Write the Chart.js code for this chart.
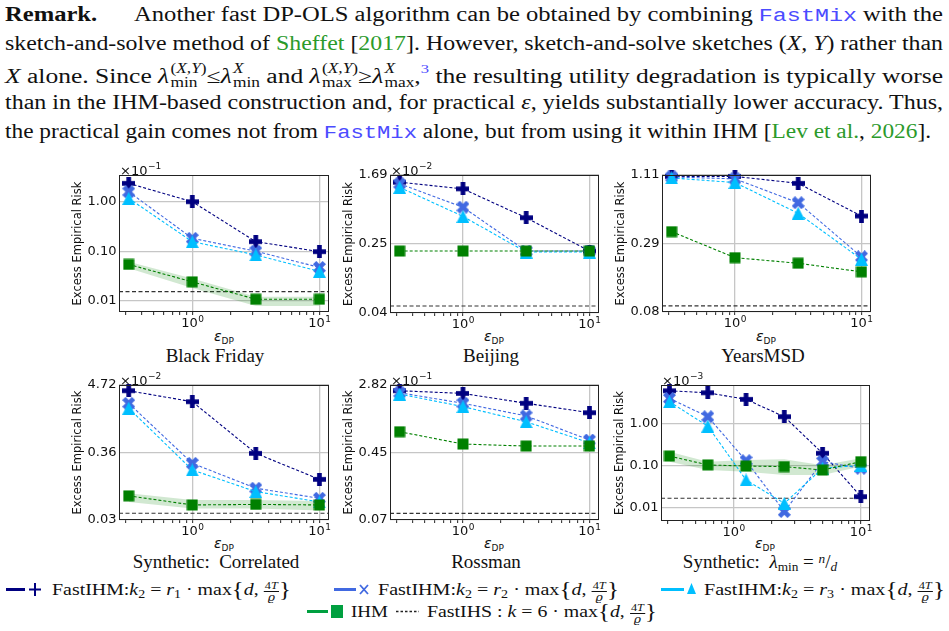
<!DOCTYPE html>
<html lang="en">
<head>
<meta charset="UTF-8">
<title>Excess empirical risk vs privacy budget</title>
<script src="https://cdn.jsdelivr.net/npm/chart.js"></script>
<style>
  html, body { margin: 0; padding: 0; background: #fff; }
  body { width: 949px; height: 631px; position: relative; overflow: hidden; font-family: 'Liberation Serif', 'Times New Roman', Times, serif; color: #111; }
  canvas { position: absolute; }
  .ln, .lg { position: absolute; white-space: nowrap; transform-origin: 0 50%; }
  .ln { left: 5px; font-size: 20px; line-height: 24px; }
  .tt { font-family: 'Liberation Mono', 'DejaVu Sans Mono', monospace; color: #4b4bff; font-size: 0.95em; }
  .cg { color: #2b9a2b; }
  .ss { display: inline-block; vertical-align: -0.3em; font-size: 0.68em; line-height: 1; text-align: left; margin-left: 1px; }
  .ss span { display: block; }
  .fn { color: #4b4bff; font-size: 0.65em; vertical-align: 0.75em; line-height: 0; }
  .ttl { position: absolute; white-space: nowrap; font-size: 19px; line-height: 22px; transform: translateX(-50%); }
  .xl { position: absolute; white-space: nowrap; font-family: 'DejaVu Sans', sans-serif; font-size: 14px; line-height: 16px; transform: translateX(-50%); }
  .xl sub { font-size: 9px; vertical-align: -3px; line-height: 0; }
  .lg { font-size: 17px; line-height: 22px; }
  .lg sub, .ttl sub { font-size: 0.7em; vertical-align: -0.25em; line-height: 0; }
  .ttl sup { font-size: 0.7em; vertical-align: 0.35em; line-height: 0; }
  .fr { display: inline-block; vertical-align: middle; font-size: 0.62em; line-height: 1.05; text-align: center; }
  .fr span { display: block; padding: 0 1px; }
  .fr span + span { border-top: 0.8px solid #111; }
  .rho { font-family: 'DejaVu Serif', serif; font-style: italic; }
  .br { font-size: 1.25em; vertical-align: -0.05em; line-height: 0; }
  .bar { position: absolute; height: 3px; }
  .mk { position: absolute; }
</style>
</head>
<body>

<div class="ln" id="p1" style="top:2px"><b>Remark.</b><span style="display:inline-block;width:30px"></span>Another fast DP-OLS algorithm can be obtained by combining <span class="tt">FastMix</span> with the</div>
<div class="ln" id="p2" style="top:31px">sketch-and-solve method of <span class="cg">Sheffet</span> [<span class="cg">2017</span>]. However, sketch-and-solve sketches (<i>X, Y</i>) rather than</div>
<div class="ln" id="p3" style="top:62px"><i>X</i> alone. Since <i>λ</i><span class="ss"><span>(<i>X,Y</i>)</span><span>min</span></span>≤<i>λ</i><span class="ss"><span><i>X</i></span><span>min</span></span> and <i>λ</i><span class="ss"><span>(<i>X,Y</i>)</span><span>max</span></span>≥<i>λ</i><span class="ss"><span><i>X</i></span><span>max</span></span>,<span class="fn">3</span> the resulting utility degradation is typically worse</div>
<div class="ln" id="p4" style="top:90px">than in the IHM-based construction and, for practical <i>ε</i>, yields substantially lower accuracy. Thus,</div>
<div class="ln" id="p5" style="top:119px">the practical gain comes not from <span class="tt">FastMix</span> alone, but from using it within IHM [<span class="cg">Lev et al.</span>, <span class="cg">2026</span>].</div>

<div class="xl" style="left:224px;top:328px"><i>ε</i><sub>DP</sub></div>
<div class="xl" style="left:494px;top:328px"><i>ε</i><sub>DP</sub></div>
<div class="xl" style="left:766px;top:328px"><i>ε</i><sub>DP</sub></div>
<div class="xl" style="left:224px;top:535px"><i>ε</i><sub>DP</sub></div>
<div class="xl" style="left:494px;top:535px"><i>ε</i><sub>DP</sub></div>
<div class="xl" style="left:765px;top:535px"><i>ε</i><sub>DP</sub></div>

<div class="ttl" style="left:215px;top:345px">Black Friday</div>
<div class="ttl" style="left:491px;top:345px">Beijing</div>
<div class="ttl" style="left:763px;top:345px">YearsMSD</div>
<div class="ttl" style="left:216px;top:551px">Synthetic: &nbsp;Correlated</div>
<div class="ttl" style="left:486px;top:551px">Rossman</div>
<div class="ttl" style="left:760px;top:551px">Synthetic: &nbsp;<i>λ</i><sub>min</sub> = <sup><i>n</i></sup>/<sub><i>d</i></sub></div>

<!-- legend -->
<div class="bar" style="left:6px;top:588px;width:19px;background:#000080"></div>
<svg class="mk" style="left:29px;top:583px" width="12" height="13"><path d="M6 0V13M0 6.5H12" stroke="#000080" stroke-width="2"/></svg>
<div class="lg" id="lg1" style="left:52px;top:579px">FastIHM:<i>k</i><sub>2</sub> = <i>r</i><sub>1</sub> · max<span class="br">{</span><i>d</i>, <span class="fr"><span>4<i>T</i></span><span class="rho">ϱ</span></span><span class="br">}</span></div>

<div class="bar" style="left:334px;top:588px;width:22px;background:#4169e1"></div>
<svg class="mk" style="left:359px;top:584px" width="10" height="11"><path d="M1 1L9 10M9 1L1 10" stroke="#4169e1" stroke-width="1.8"/></svg>
<div class="lg" id="lg2" style="left:378px;top:579px">FastIHM:<i>k</i><sub>2</sub> = <i>r</i><sub>2</sub> · max<span class="br">{</span><i>d</i>, <span class="fr"><span>4<i>T</i></span><span class="rho">ϱ</span></span><span class="br">}</span></div>

<div class="bar" style="left:661px;top:588px;width:23px;background:#00bfff"></div>
<svg class="mk" style="left:687px;top:583px" width="9" height="11"><path d="M4.5 0L9 11H0Z" fill="#00bfff"/></svg>
<div class="lg" id="lg3" style="left:704px;top:579px">FastIHM:<i>k</i><sub>2</sub> = <i>r</i><sub>3</sub> · max<span class="br">{</span><i>d</i>, <span class="fr"><span>4<i>T</i></span><span class="rho">ϱ</span></span><span class="br">}</span></div>

<div class="bar" style="left:307px;top:610px;width:21px;background:#00a040"></div>
<svg class="mk" style="left:331px;top:605px" width="12" height="13"><rect x="0" y="0" width="12" height="13" fill="#00a040"/></svg>
<div class="lg" id="lg4" style="left:351px;top:601px">IHM</div>
<svg class="mk" style="left:396px;top:610px" width="23" height="3"><path d="M0 1.5H23" stroke="#222" stroke-width="1.5" stroke-dasharray="2.5 2"/></svg>
<div class="lg" id="lg5" style="left:427px;top:601px">FastIHS : <i>k</i> = 6 · max<span class="br">{</span><i>d</i>, <span class="fr"><span>4<i>T</i></span><span class="rho">ϱ</span></span><span class="br">}</span></div>

<script>
// privacy budgets on the x axis
const epsReal = [0.316, 1, 3.16, 10];
const epsSynth = [0.3125, 0.625, 1.25, 2.5, 5, 10];

// Black Friday (x1e-1)
const bfR1 = [2.35, 1.00, 0.156, 0.098];
const bfR2 = [1.59, 0.182, 0.100, 0.047];
const bfR3 = [1.17, 0.156, 0.084, 0.039];
const bfIHM = [0.054, 0.024, 0.0107, 0.0107];
const bfIHMlo = [0.045, 0.018, 0.0078, 0.0078];
const bfIHMhi = [0.061, 0.028, 0.012, 0.012];
const bfIHS = 0.0152;
const bfTicks = [0.01, 0.1, 1];
const bfLabels = ['0.01', '0.10', '1.00'];

// Beijing (x1e-2)
const bjR1 = [1.39, 1.16, 0.53, 0.215];
const bjR2 = [1.33, 0.706, 0.215, 0.215];
const bjR3 = [1.21, 0.55, 0.209, 0.209];
const bjIHM = [0.215, 0.215, 0.215, 0.215];
const bjIHS = 0.0484;
const bjTicks = [0.04, 0.26, 1.69];
const bjLabels = ['0.04', '0.25', '1.69'];

// YearsMSD
const ymR1 = [1.08, 1.08, 0.946, 0.505];
const ymR2 = [1.07, 1.03, 0.652, 0.231];
const ymR3 = [1.05, 0.96, 0.532, 0.22];
const ymIHM = [0.374, 0.227, 0.204, 0.173];
const ymIHS = 0.090;
const ymTicks = [0.08, 0.298, 1.11];
const ymLabels = ['0.08', '0.29', '1.11'];

// Synthetic: correlated (x1e-2)
const scR1 = [3.79, 2.49, 0.346, 0.128];
const scR2 = [2.34, 0.236, 0.091, 0.062];
const scR3 = [1.94, 0.183, 0.080, 0.054];
const scIHM = [0.068, 0.048, 0.049, 0.048];
const scIHMlo = [0.054, 0.042, 0.042, 0.039];
const scIHMhi = [0.075, 0.058, 0.058, 0.056];
const scIHS = 0.035;
const scTicks = [0.027, 0.357, 4.72];
const scLabels = ['0.03', '0.36', '4.72'];

// Rossman (x1e-1)
const rsR1 = [2.41, 2.24, 1.71, 1.32];
const rsR2 = [2.28, 1.71, 1.21, 0.625];
const rsR3 = [2.2, 1.56, 1.03, 0.58];
const rsIHM = [0.785, 0.56, 0.53, 0.53];
const rsIHS = 0.084;
const rsTicks = [0.07, 0.444, 2.82];
const rsLabels = ['0.07', '0.45', '2.82'];

// Synthetic: lambda_min = n/d (x1e-3)
const slR1 = [5.97, 5.35, 3.73, 1.44, 0.193, 0.0179];
const slR2 = [3.94, 1.44, 0.129, 0.0079, 0.122, 0.085];
const slR3 = [3.27, 0.86, 0.0447, 0.0124, 0.085, 0.10];
const slIHM = [0.166, 0.102, 0.096, 0.093, 0.077, 0.122];
const slIHMlo = [0.122, 0.077, 0.07, 0.059, 0.059, 0.093];
const slIHMhi = [0.21, 0.122, 0.134, 0.139, 0.10, 0.147];
const slIHS = 0.0164;
const slTicks = [0.01, 0.1, 1];
const slLabels = ['0.01', '0.10', '1.00'];

const NAVY = '#000080', ROYAL = '#4169e1', SKY = '#00bfff', GREEN = '#008000';
const GRID = '#c6c6c6';
const AXW = 48, PADT = 18, PADR = 8, AXH = 20;

const panels = [
  { eps: epsReal, r1: bfR1, r2: bfR2, r3: bfR3, ihm: bfIHM, lo: bfIHMlo, hi: bfIHMhi, ihs: bfIHS,
    yTicks: bfTicks, yLabels: bfLabels, yMin: 0.0059, yMax: 3.47, xMin: 0.265, xMax: 11.9, exp: '−1', box: [119, 175, 329, 312] },
  { eps: epsReal, r1: bjR1, r2: bjR2, r3: bjR3, ihm: bjIHM, ihs: bjIHS,
    yTicks: bjTicks, yLabels: bjLabels, yMin: 0.04, yMax: 1.69, xMin: 0.265, xMax: 11.9, exp: '−2', box: [390, 175, 599, 313] },
  { eps: epsReal, r1: ymR1, r2: ymR2, r3: ymR3, ihm: ymIHM, ihs: ymIHS,
    yTicks: ymTicks, yLabels: ymLabels, yMin: 0.08, yMax: 1.11, xMin: 0.265, xMax: 11.9, exp: '', box: [662, 175, 871, 312] },
  { eps: epsReal, r1: scR1, r2: scR2, r3: scR3, ihm: scIHM, lo: scIHMlo, hi: scIHMhi, ihs: scIHS,
    yTicks: scTicks, yLabels: scLabels, yMin: 0.027, yMax: 4.72, xMin: 0.265, xMax: 11.9, exp: '−2', box: [119, 385, 329, 520] },
  { eps: epsReal, r1: rsR1, r2: rsR2, r3: rsR3, ihm: rsIHM, ihs: rsIHS,
    yTicks: rsTicks, yLabels: rsLabels, yMin: 0.07, yMax: 2.82, xMin: 0.265, xMax: 11.9, exp: '−1', box: [390, 385, 599, 520] },
  { eps: epsSynth, r1: slR1, r2: slR2, r3: slR3, ihm: slIHM, lo: slIHMlo, hi: slIHMhi, ihs: slIHS,
    yTicks: slTicks, yLabels: slLabels, yMin: 0.0047, yMax: 8.2, xMin: 0.268, xMax: 11.8, exp: '−3', box: [661, 385, 870, 521] }
];

function isDecade(v) {
  const l = Math.log10(v);
  return Math.abs(l - Math.round(l)) < 1e-6;
}

function logTicks(min, max) {
  const out = [];
  for (let e = -2; e <= 1; e++) {
    for (let m = 1; m <= 9; m++) {
      const v = m * Math.pow(10, e);
      if (v >= min && v <= max) out.push({ value: v });
    }
  }
  return out;
}

// filled marker images (plus, x, triangle, square)
function marker(shape, color, size) {
  const c = document.createElement('canvas');
  c.width = size; c.height = size;
  const g = c.getContext('2d');
  const h = size / 2;
  g.fillStyle = color;
  g.translate(h, h);
  if (shape === 'plus' || shape === 'x') {
    if (shape === 'x') g.rotate(Math.PI / 4);
    const L = shape === 'x' ? size * 1.05 : size;
    const w = size * 0.36;
    g.fillRect(-L / 2, -w / 2, L, w);
    g.fillRect(-w / 2, -L / 2, w, L);
  } else if (shape === 'tri') {
    g.beginPath();
    g.moveTo(0, -h); g.lineTo(h, h); g.lineTo(-h, h);
    g.closePath(); g.fill();
  } else {
    g.fillRect(-h + 0.5, -h + 0.5, size - 1, size - 1);
  }
  return c;
}
const MK = {
  plus: marker('plus', NAVY, 13),
  x: marker('x', ROYAL, 13),
  tri: marker('tri', SKY, 13),
  sq: marker('sq', GREEN, 12)
};

// "10" with a raised exponent, centred on x
function powerText(ctx, x, y, exp, size, align) {
  ctx.font = size + 'px "DejaVu Sans"';
  const wb = ctx.measureText('10').width;
  ctx.font = Math.round(size * 0.7) + 'px "DejaVu Sans"';
  const we = ctx.measureText(exp).width;
  let x0 = align === 'center' ? x - (wb + we) / 2 : x;
  ctx.textAlign = 'left';
  ctx.font = size + 'px "DejaVu Sans"';
  ctx.fillText('10', x0, y);
  ctx.font = Math.round(size * 0.7) + 'px "DejaVu Sans"';
  ctx.fillText(exp, x0 + wb + 0.5, y - size * 0.42);
}

// box round the axes, decade labels under x and the offset text (x10^-n)
const framePlugin = {
  id: 'frame',
  afterDatasetsDraw(chart, args, opts) {
    const { ctx, chartArea: a } = chart;
    const xs = chart.scales.x;
    ctx.save();
    ctx.strokeStyle = '#222';
    ctx.lineWidth = 1;
    ctx.strokeRect(a.left + 0.5, a.top + 0.5, a.right - a.left - 1, a.bottom - a.top - 1);
    ctx.fillStyle = '#111';
    ctx.textBaseline = 'alphabetic';
    xs.ticks.forEach(t => {
      if (!isDecade(t.value)) return;
      powerText(ctx, xs.getPixelForValue(t.value), a.bottom + 15, String(Math.round(Math.log10(t.value))), 13, 'center');
    });
    if (opts.exp) {
      ctx.font = '13px "DejaVu Sans"';
      ctx.fillText('×', a.left + 1, a.top - 0.5);
      const wx = ctx.measureText('×').width;
      powerText(ctx, a.left + 1 + wx, a.top - 0.5, opts.exp, 13, 'left');
    }
    ctx.restore();
  }
};

// FastIHS reference level, dashed across the whole axes
const ihsPlugin = {
  id: 'ihs',
  beforeDatasetsDraw(chart, args, opts) {
    const { ctx, chartArea: a } = chart;
    const y = chart.scales.y.getPixelForValue(opts.value);
    ctx.save();
    ctx.strokeStyle = '#333';
    ctx.lineWidth = 1.1;
    ctx.setLineDash([4, 2.5]);
    ctx.beginPath();
    ctx.moveTo(a.left, y);
    ctx.lineTo(a.right, y);
    ctx.stroke();
    ctx.restore();
  }
};

const tickFont = { family: 'DejaVu Sans', size: 13 };

panels.forEach(p => {
  const [l, t, r, b] = p.box;
  const cv = document.createElement('canvas');
  cv.width = r - l + AXW + PADR;
  cv.height = b - t + PADT + AXH;
  cv.style.left = (l - AXW) + 'px';
  cv.style.top = (t - PADT) + 'px';
  document.body.appendChild(cv);

  const pts = ys => p.eps.map((x, i) => ({ x, y: ys[i] }));
  const series = (ys, color, style, order) => ({
    data: pts(ys),
    borderColor: color,
    backgroundColor: color,
    borderWidth: 1.1,
    borderDash: [3, 2],
    pointStyle: style,
    pointRadius: 6,
    order,
    clip: false,
    fill: false
  });

  const datasets = [
    series(p.r1, NAVY, MK.plus, 4),
    series(p.r2, ROYAL, MK.x, 3),
    series(p.r3, SKY, MK.tri, 2),
    series(p.ihm, GREEN, MK.sq, 1)
  ];
  if (p.lo) {
    datasets.push({ data: pts(p.lo), borderColor: 'rgba(0,0,0,0)', borderWidth: 1, pointRadius: 0, fill: false, order: 10 });
    datasets.push({ data: pts(p.hi), borderColor: 'rgba(0,0,0,0)', borderWidth: 1, pointRadius: 0, fill: '-1',
      backgroundColor: 'rgba(0,128,0,0.18)', order: 10 });
  }

  new Chart(cv, {
    type: 'line',
    data: { datasets },
    plugins: [framePlugin, ihsPlugin],
    options: {
      responsive: false,
      animation: false,
      devicePixelRatio: 1,
      events: [],
      layout: { padding: { top: PADT, right: PADR, left: 0, bottom: 0 } },
      plugins: {
        legend: { display: false },
        tooltip: { enabled: false },
        frame: { exp: p.exp },
        ihs: { value: p.ihs }
      },
      scales: {
        x: {
          type: 'logarithmic',
          min: p.xMin,
          max: p.xMax,
          afterBuildTicks: s => { s.ticks = logTicks(p.xMin, p.xMax); },
          afterFit: s => { s.height = AXH; },
          border: { display: false },
          grid: {
            color: c => (c.tick && isDecade(c.tick.value)) ? GRID : 'rgba(0,0,0,0)',
            tickColor: '#222',
            tickLength: 3,
            tickWidth: 1,
            lineWidth: 1.3
          },
          ticks: { autoSkip: false, maxRotation: 0, minRotation: 0, padding: 1, callback: () => '' }
        },
        y: {
          type: 'logarithmic',
          min: p.yMin,
          max: p.yMax,
          afterBuildTicks: s => { s.ticks = p.yTicks.map(v => ({ value: v })); },
          afterFit: s => { s.width = AXW; },
          border: { display: false },
          grid: { color: GRID, lineWidth: 1.3, drawTicks: false },
          ticks: { padding: 2.5, color: '#111', font: tickFont, callback: (v, i) => p.yLabels[i] },
          title: { display: true, text: 'Excess Empirical Risk', color: '#111',
            font: { family: 'DejaVu Sans', size: 11.5 }, padding: 0 }
        }
      }
    }
  });
});

// stretch text lines to the widths of the typeset original
function fitWidth(id, w) {
  const el = document.getElementById(id);
  const nat = el.getBoundingClientRect().width;
  el.style.transform = 'scaleX(' + (w / nat).toFixed(4) + ')';
}
fitWidth('p1', 938); fitWidth('p2', 938); fitWidth('p3', 938); fitWidth('p4', 938); fitWidth('p5', 926);
fitWidth('lg1', 239); fitWidth('lg2', 241); fitWidth('lg3', 241); fitWidth('lg4', 37); fitWidth('lg5', 230);
</script>
</body>
</html>
